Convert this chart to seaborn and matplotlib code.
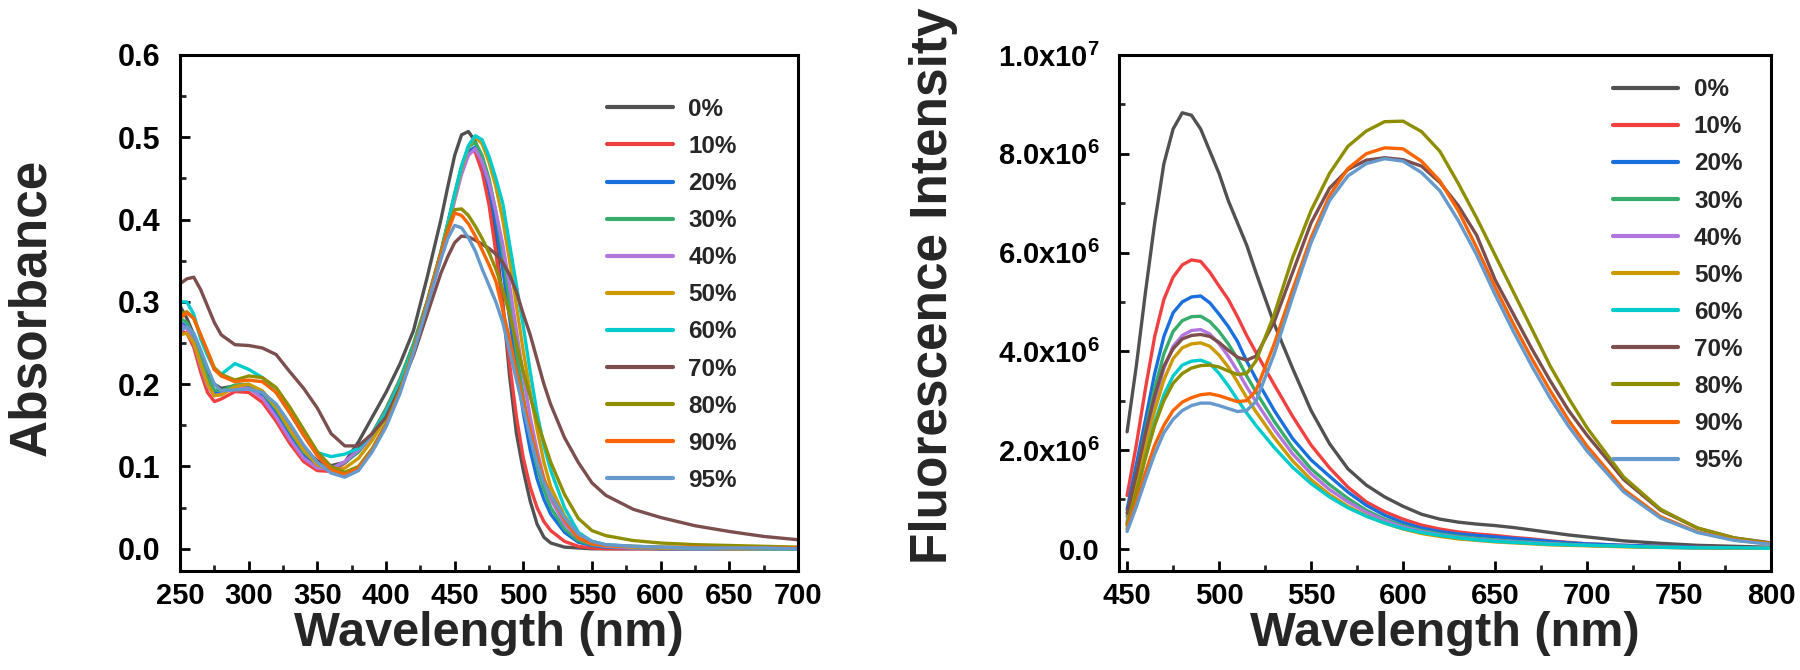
import numpy as np
import pandas as pd
import matplotlib
matplotlib.use("Agg")
import matplotlib.pyplot as plt
import seaborn as sns
from matplotlib.ticker import AutoMinorLocator

sns.set_theme(style="ticks")
plt.rcParams['font.family'] = ['Liberation Sans', 'DejaVu Sans']
plt.rcParams['font.weight'] = 'bold'
plt.rcParams['mathtext.fontset'] = 'custom'
plt.rcParams['mathtext.rm'] = 'Liberation Sans:bold'
plt.rcParams['mathtext.bf'] = 'Liberation Sans:bold'
plt.rcParams['mathtext.default'] = 'regular'
plt.rcParams['lines.solid_joinstyle'] = 'round'

labels = ["0%", "10%", "20%", "30%", "40%", "50%", "60%", "70%", "80%", "90%", "95%"]
colors = ["#515151", "#F14040", "#1A6FDF", "#37AD6B", "#B177DE", "#CC9900",
          "#00CBCC", "#7D4E4E", "#8E8E00", "#FB6501", "#6699CC"]

# ---------------- Absorbance (left) ----------------
wl_abs = [250, 255, 260, 265, 270, 275, 280, 290, 300, 310, 320, 330, 340, 350, 360, 370,
          380, 390, 400, 410, 420, 430, 440, 445, 450, 455, 460, 465, 470, 475, 480, 485,
          490, 495, 500, 505, 510, 515, 520, 530, 540, 550, 560, 580, 600, 625, 650, 675, 700]

abs_0 = [0.295, 0.28, 0.26, 0.235, 0.215, 0.20, 0.195, 0.198, 0.198, 0.19, 0.172, 0.145, 0.122, 0.107, 0.101, 0.105,
         0.13, 0.16, 0.19, 0.224, 0.265, 0.33, 0.40, 0.44, 0.478, 0.503, 0.507, 0.495, 0.47, 0.435, 0.375, 0.30,
         0.21, 0.14, 0.095, 0.058, 0.03, 0.014, 0.007, 0.002, 0.001, 0.0, 0.0, 0.0, 0.0, 0.0, 0.0, 0.0, 0.0]
abs_10 = [0.265, 0.262, 0.245, 0.215, 0.19, 0.179, 0.182, 0.191, 0.19, 0.178, 0.155, 0.128, 0.106, 0.095, 0.094, 0.104,
          0.12, 0.14, 0.17, 0.205, 0.248, 0.30, 0.36, 0.395, 0.43, 0.462, 0.485, 0.482, 0.458, 0.418, 0.36, 0.295,
          0.225, 0.16, 0.11, 0.075, 0.05, 0.033, 0.022, 0.009, 0.003, 0.001, 0.0, 0.0, 0.0, 0.0, 0.0, 0.0, 0.0]
abs_20 = [0.275, 0.27, 0.255, 0.228, 0.205, 0.19, 0.19, 0.197, 0.197, 0.186, 0.165, 0.138, 0.114, 0.10, 0.097, 0.105,
          0.118, 0.138, 0.168, 0.203, 0.246, 0.298, 0.358, 0.393, 0.428, 0.46, 0.483, 0.488, 0.47, 0.44, 0.395, 0.34,
          0.28, 0.22, 0.165, 0.12, 0.085, 0.06, 0.042, 0.02, 0.008, 0.004, 0.002, 0.001, 0.0, 0.0, 0.0, 0.0, 0.0]
abs_30 = [0.28, 0.275, 0.258, 0.232, 0.208, 0.193, 0.192, 0.199, 0.20, 0.19, 0.17, 0.143, 0.118, 0.103, 0.098, 0.105,
          0.118, 0.14, 0.17, 0.205, 0.249, 0.301, 0.361, 0.396, 0.432, 0.465, 0.488, 0.494, 0.478, 0.45, 0.41, 0.36,
          0.30, 0.24, 0.185, 0.138, 0.10, 0.072, 0.05, 0.024, 0.01, 0.005, 0.003, 0.001, 0.001, 0.0, 0.0, 0.0, 0.0]
abs_40 = [0.272, 0.268, 0.25, 0.222, 0.198, 0.186, 0.188, 0.196, 0.195, 0.183, 0.16, 0.133, 0.11, 0.098, 0.097, 0.106,
          0.12, 0.137, 0.166, 0.20, 0.243, 0.295, 0.354, 0.388, 0.423, 0.455, 0.478, 0.486, 0.47, 0.445, 0.41, 0.37,
          0.32, 0.265, 0.21, 0.16, 0.12, 0.085, 0.06, 0.03, 0.013, 0.006, 0.003, 0.001, 0.001, 0.0, 0.0, 0.0, 0.0]
abs_50 = [0.26, 0.262, 0.25, 0.225, 0.20, 0.186, 0.187, 0.197, 0.20, 0.192, 0.172, 0.145, 0.12, 0.102, 0.095, 0.098,
          0.11, 0.132, 0.16, 0.197, 0.243, 0.297, 0.358, 0.392, 0.428, 0.462, 0.488, 0.501, 0.492, 0.47, 0.44, 0.40,
          0.35, 0.295, 0.24, 0.19, 0.145, 0.105, 0.075, 0.04, 0.018, 0.008, 0.004, 0.002, 0.001, 0.001, 0.0, 0.0, 0.0]
abs_60 = [0.30, 0.30, 0.285, 0.255, 0.235, 0.218, 0.212, 0.225, 0.218, 0.208, 0.19, 0.165, 0.138, 0.117, 0.112, 0.115,
          0.122, 0.14, 0.165, 0.20, 0.245, 0.298, 0.36, 0.395, 0.43, 0.465, 0.49, 0.502, 0.497, 0.477, 0.45, 0.42,
          0.37, 0.32, 0.27, 0.215, 0.165, 0.125, 0.095, 0.05, 0.02, 0.009, 0.005, 0.003, 0.002, 0.001, 0.001, 0.0, 0.0]
abs_70 = [0.322, 0.328, 0.33, 0.315, 0.295, 0.275, 0.26, 0.248, 0.247, 0.244, 0.236, 0.215, 0.195, 0.171, 0.14, 0.125,
          0.125, 0.14, 0.16, 0.195, 0.235, 0.285, 0.335, 0.355, 0.372, 0.38, 0.379, 0.375, 0.37, 0.365, 0.358, 0.348,
          0.333, 0.312, 0.285, 0.26, 0.23, 0.20, 0.175, 0.135, 0.105, 0.08, 0.065, 0.048, 0.038, 0.028, 0.021, 0.015, 0.011]
abs_80 = [0.285, 0.288, 0.28, 0.26, 0.24, 0.22, 0.212, 0.205, 0.21, 0.208, 0.196, 0.172, 0.145, 0.118, 0.10, 0.093,
          0.10, 0.122, 0.152, 0.192, 0.242, 0.30, 0.36, 0.39, 0.412, 0.413, 0.405, 0.392, 0.377, 0.36, 0.34, 0.315,
          0.285, 0.25, 0.215, 0.185, 0.155, 0.13, 0.105, 0.066, 0.037, 0.022, 0.016, 0.01, 0.007, 0.005, 0.004, 0.003, 0.002]
abs_90 = [0.28, 0.287, 0.28, 0.26, 0.24, 0.218, 0.21, 0.203, 0.205, 0.203, 0.19, 0.165, 0.138, 0.113, 0.096, 0.09,
          0.098, 0.12, 0.15, 0.19, 0.24, 0.298, 0.358, 0.385, 0.408, 0.405, 0.395, 0.38, 0.363, 0.345, 0.325, 0.29,
          0.255, 0.215, 0.18, 0.145, 0.112, 0.085, 0.065, 0.035, 0.013, 0.006, 0.004, 0.003, 0.002, 0.002, 0.001, 0.001, 0.001]
abs_95 = [0.265, 0.27, 0.262, 0.242, 0.22, 0.20, 0.192, 0.193, 0.194, 0.19, 0.176, 0.152, 0.126, 0.105, 0.092, 0.087,
          0.095, 0.118, 0.148, 0.188, 0.238, 0.295, 0.352, 0.377, 0.393, 0.39, 0.378, 0.362, 0.34, 0.32, 0.30, 0.275,
          0.24, 0.205, 0.17, 0.135, 0.105, 0.08, 0.065, 0.038, 0.018, 0.009, 0.005, 0.003, 0.002, 0.001, 0.001, 0.001, 0.0]

# ---------------- Fluorescence (right), units of 1e6 ----------------
wl_fl = [450, 455, 460, 465, 470, 475, 480, 485, 490, 495, 500, 505, 510, 515, 520, 530, 540, 550, 560,
         570, 580, 590, 600, 610, 620, 630, 640, 650, 660, 670, 680, 690, 700, 720, 740, 760, 780, 800]

fl_0 = [2.37, 3.7, 5.2, 6.6, 7.8, 8.5, 8.83, 8.78, 8.5, 8.05, 7.6, 7.05, 6.6, 6.15, 5.6, 4.55, 3.65, 2.8, 2.13,
        1.62, 1.29, 1.05, 0.86, 0.7, 0.6, 0.54, 0.5, 0.47, 0.43, 0.38, 0.33, 0.28, 0.24, 0.16, 0.11, 0.07, 0.05, 0.03]
fl_10 = [1.08, 2.1, 3.25, 4.3, 5.05, 5.5, 5.75, 5.85, 5.82, 5.6, 5.32, 5.05, 4.7, 4.32, 3.98, 3.32, 2.68, 2.1, 1.64,
         1.25, 0.95, 0.75, 0.6, 0.48, 0.4, 0.34, 0.3, 0.27, 0.23, 0.2, 0.16, 0.13, 0.1, 0.07, 0.05, 0.03, 0.02, 0.01]
fl_20 = [0.8, 1.7, 2.62, 3.55, 4.3, 4.78, 5.0, 5.1, 5.12, 4.98, 4.75, 4.5, 4.2, 3.8, 3.45, 2.8, 2.23, 1.8, 1.47,
         1.15, 0.88, 0.68, 0.53, 0.42, 0.35, 0.3, 0.27, 0.24, 0.21, 0.18, 0.15, 0.12, 0.1, 0.07, 0.05, 0.03, 0.02, 0.01]
fl_30 = [0.65, 1.5, 2.4, 3.25, 3.95, 4.4, 4.62, 4.7, 4.71, 4.6, 4.4, 4.15, 3.85, 3.5, 3.18, 2.58, 2.05, 1.62, 1.3,
         1.02, 0.78, 0.6, 0.47, 0.37, 0.3, 0.25, 0.21, 0.18, 0.15, 0.13, 0.11, 0.09, 0.07, 0.05, 0.03, 0.02, 0.01, 0.01]
fl_40 = [0.55, 1.35, 2.2, 3.0, 3.65, 4.1, 4.32, 4.42, 4.44, 4.35, 4.15, 3.9, 3.6, 3.28, 2.98, 2.42, 1.92, 1.52, 1.2,
         0.95, 0.74, 0.57, 0.44, 0.35, 0.28, 0.23, 0.19, 0.16, 0.14, 0.12, 0.1, 0.08, 0.07, 0.05, 0.03, 0.02, 0.01, 0.01]
fl_50 = [0.5, 1.25, 2.05, 2.8, 3.42, 3.85, 4.07, 4.15, 4.17, 4.1, 3.92, 3.68, 3.38, 3.06, 2.78, 2.25, 1.78, 1.4, 1.1,
         0.86, 0.67, 0.52, 0.4, 0.31, 0.25, 0.2, 0.17, 0.14, 0.12, 0.1, 0.08, 0.07, 0.06, 0.04, 0.03, 0.02, 0.01, 0.01]
fl_60 = [0.45, 1.1, 1.85, 2.55, 3.12, 3.5, 3.72, 3.8, 3.82, 3.75, 3.55, 3.3, 3.02, 2.75, 2.5, 2.05, 1.65, 1.32, 1.05,
         0.83, 0.66, 0.52, 0.41, 0.33, 0.27, 0.22, 0.18, 0.15, 0.13, 0.11, 0.09, 0.08, 0.07, 0.05, 0.03, 0.02, 0.02, 0.01]
fl_70 = [0.72, 1.5, 2.35, 3.1, 3.7, 4.05, 4.25, 4.32, 4.34, 4.3, 4.18, 4.02, 3.88, 3.82, 3.9, 4.6, 5.6, 6.6, 7.3,
         7.68, 7.87, 7.92, 7.88, 7.75, 7.42, 6.95, 6.35, 5.45, 4.75, 4.05, 3.4, 2.8, 2.3, 1.4, 0.78, 0.42, 0.22, 0.12]
fl_80 = [0.5, 1.15, 1.85, 2.5, 3.0, 3.35, 3.55, 3.66, 3.71, 3.72, 3.68, 3.6, 3.53, 3.55, 3.8, 4.75, 5.9, 6.85, 7.6,
         8.15, 8.46, 8.65, 8.66, 8.45, 8.05, 7.4, 6.7, 5.95, 5.2, 4.45, 3.7, 3.05, 2.45, 1.45, 0.8, 0.42, 0.22, 0.11]
fl_90 = [0.4, 0.95, 1.55, 2.1, 2.5, 2.8, 2.97, 3.06, 3.12, 3.14, 3.1, 3.04, 2.98, 3.0, 3.2, 4.15, 5.25, 6.3, 7.15,
         7.7, 8.0, 8.12, 8.1, 7.85, 7.45, 6.85, 6.1, 5.3, 4.55, 3.85, 3.2, 2.6, 2.08, 1.2, 0.65, 0.34, 0.18, 0.1]
fl_95 = [0.35, 0.85, 1.4, 1.92, 2.35, 2.62, 2.8, 2.9, 2.95, 2.95, 2.9, 2.84, 2.78, 2.8, 2.98, 3.95, 5.1, 6.2, 7.05,
         7.55, 7.8, 7.9, 7.85, 7.62, 7.25, 6.65, 5.95, 5.15, 4.4, 3.7, 3.05, 2.48, 1.98, 1.15, 0.62, 0.33, 0.17, 0.09]

abs_series = [abs_0, abs_10, abs_20, abs_30, abs_40, abs_50, abs_60, abs_70, abs_80, abs_90, abs_95]
fl_series = [fl_0, fl_10, fl_20, fl_30, fl_40, fl_50, fl_60, fl_70, fl_80, fl_90, fl_95]

def long_df(wl, series, scale=1.0):
    rows = []
    for lab, vals in zip(labels, series):
        for w, v in zip(wl, vals):
            rows.append((w, v * scale, lab))
    return pd.DataFrame(rows, columns=["wl", "val", "label"])

df_abs = long_df(wl_abs, abs_series)
df_fl = long_df(wl_fl, fl_series, 1e6)
palette = dict(zip(labels, colors))

W, H = 1800, 670
fig = plt.figure(figsize=(18, 6.7), dpi=100)
axL = fig.add_axes([180/W, 1-571/H, (798-180)/W, (571-55)/H])
axR = fig.add_axes([1119/W, 1-571/H, (1771-1119)/W, (571-55)/H])

for ax, df in ((axL, df_abs), (axR, df_fl)):
    sns.lineplot(data=df, x="wl", y="val", hue="label", hue_order=labels, palette=palette,
                 estimator=None, sort=False, lw=2.4, ax=ax, legend=True)

TICK_FS = 21
LAB_FS = 35
YLAB_FS = 37
LEG_FS = 17.5

def style(ax, ytick_fs):
    for s in ax.spines.values():
        s.set_linewidth(2.2)
        s.set_color("black")
    ax.tick_params(axis="x", which="major", pad=8, labelsize=TICK_FS)
    ax.tick_params(axis="y", which="major", pad=14, labelsize=ytick_fs)
    ax.tick_params(which="major", direction="in", length=7, width=2,
                   top=False, right=False, colors="black")
    ax.tick_params(which="minor", direction="in", length=4, width=2, top=False, right=False)
    ax.xaxis.set_minor_locator(AutoMinorLocator(2))
    ax.yaxis.set_minor_locator(AutoMinorLocator(2))
    for t in ax.get_xticklabels() + ax.get_yticklabels():
        t.set_fontweight("bold")
    ax.grid(False)

# Left axes
axL.set_xlim(250, 700)
axL.set_ylim(-0.027, 0.6)
axL.set_xticks([250, 300, 350, 400, 450, 500, 550, 600, 650, 700])
axL.set_yticks([0.0, 0.1, 0.2, 0.3, 0.4, 0.5, 0.6])
axL.set_yticklabels(["0.0", "0.1", "0.2", "0.3", "0.4", "0.5", "0.6"])
style(axL, 22)
axL.set_xlabel("Wavelength (nm)", fontsize=LAB_FS, fontweight="bold")
axL.set_ylabel("Absorbance", fontsize=YLAB_FS, fontweight="bold")
axL.xaxis.set_label_coords(0.5, -0.078)
axL.yaxis.set_label_coords(-0.2, 0.51)

# Right axes
axR.set_xlim(445.6, 800)
axR.set_ylim(-4.5e5, 1.0e7)
axR.set_xticks([450, 500, 550, 600, 650, 700, 750, 800])
axR.set_yticks([0, 2e6, 4e6, 6e6, 8e6, 1e7])
axR.set_yticklabels(["0.0", r"2.0x10$^{6}$", r"4.0x10$^{6}$", r"6.0x10$^{6}$",
                     r"8.0x10$^{6}$", r"1.0x10$^{7}$"])
style(axR, 21)
axR.set_xlabel("Wavelength (nm)", fontsize=LAB_FS, fontweight="bold")
axR.set_ylabel("Fluorescence Intensity", fontsize=YLAB_FS, fontweight="bold")
axR.xaxis.set_label_coords(0.5, -0.078)
axR.yaxis.set_label_coords(-0.247, 0.552)

def make_legend(ax, anchor):
    handles, labs = ax.get_legend_handles_labels()
    leg = ax.legend(handles, labs, loc="upper left", bbox_to_anchor=anchor, frameon=False,
                    handlelength=2.7, handletextpad=0.65, labelspacing=0.58,
                    borderpad=0, borderaxespad=0, prop={"weight": "bold", "size": LEG_FS})
    for h in leg.get_lines():
        h.set_linewidth(3.0)
    return leg

make_legend(axL, (0.691, 0.917))
make_legend(axR, (0.757, 0.955))

fig.savefig("out.png", dpi=100)
